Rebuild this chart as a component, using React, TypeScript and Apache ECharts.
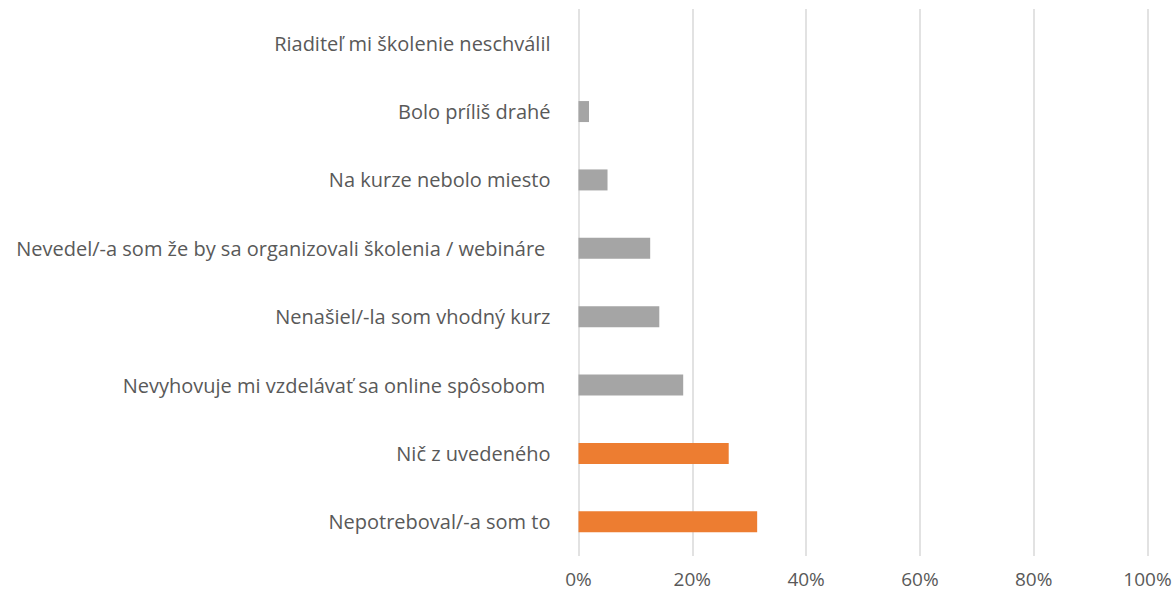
import React, { useEffect, useRef } from "react";
import * as echarts from "echarts";

const categories = [
  "Nepotreboval/-a som to",
  "Nič z uvedeného",
  "Nevyhovuje mi vzdelávať sa online spôsobom ",
  "Nenašiel/-la som vhodný kurz",
  "Nevedel/-a som že by sa organizovali školenia / webináre ",
  "Na kurze nebolo miesto",
  "Bolo príliš drahé",
  "Riaditeľ mi školenie neschválil",
];
const values = [0.314, 0.264, 0.184, 0.142, 0.126, 0.051, 0.0185, 0];
const highlighted = ["Nepotreboval/-a som to", "Nič z uvedeného"];
const xTicks = [0, 0.2, 0.4, 0.6, 0.8, 1];

export default function App() {
  const ref = useRef<HTMLDivElement>(null);
  useEffect(() => {
    if (!ref.current) return;
    const chart = echarts.init(ref.current, undefined, { renderer: "svg" });
    const font = "'Open Sans', sans-serif";
    chart.setOption({
      animation: false,
      grid: { left: 578.5, right: 27.5, top: 9, bottom: 40, containLabel: false },
      xAxis: {
        type: "value",
        min: xTicks[0],
        max: xTicks[xTicks.length - 1],
        interval: 0.2,
        axisLine: { show: false },
        axisTick: { show: false },
        splitLine: { show: true, lineStyle: { color: "#D9D9D9", width: 1.5 } },
        axisLabel: {
          color: "#595959",
          fontFamily: font,
          fontSize: 19,
          margin: 13,
          formatter: (v: number) => Math.round(v * 100) + "%",
        },
      },
      yAxis: {
        type: "category",
        data: categories,
        axisLine: { show: false },
        axisTick: { show: false },
        axisLabel: { color: "#595959", fontFamily: font, fontSize: 20, margin: 28 },
      },
      series: [
        {
          type: "bar",
          barWidth: 21,
          data: values.map((v, i) => ({
            value: v,
            itemStyle: { color: highlighted.includes(categories[i]) ? "#ED7D31" : "#A5A5A5" },
          })),
        },
      ],
    });
    return () => chart.dispose();
  }, []);
  return (
    <div
      ref={ref}
      style={{ position: "fixed", left: 0, top: 0, width: 1175, height: 596, background: "#fff" }}
    />
  );
}
